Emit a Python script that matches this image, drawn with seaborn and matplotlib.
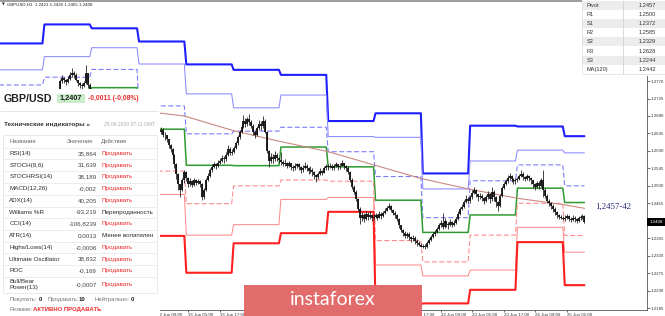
import numpy as np
import matplotlib
matplotlib.use("Agg")
import matplotlib.pyplot as plt
import seaborn as sns
from matplotlib.patches import Rectangle

sns.set_style("white")
plt.rcParams['font.family'] = ['Liberation Sans', 'DejaVu Sans']

# ---------------- data ----------------
# hourly bar index of each trading day's first hour (9,10,11,12,15,...,25 June 2020)
day_start_bar = [0, 24, 48, 72, 96, 120, 144, 168, 192, 216, 240, 264, 288]
last_bar = 298

# daily pivot levels
R3 = [1.2867, 1.2916, 1.2906, 1.2872, 1.2813, 1.2799, 1.2786, 1.2667, 1.2687, 1.2532, 1.2655, 1.2653, 1.2628]
R2 = [1.2799, 1.2833, 1.2856, 1.2814, 1.2737, 1.2701, 1.2734, 1.2627, 1.2625, 1.2492, 1.2564, 1.2592, 1.2585]
R1 = [1.2760, 1.2780, 1.2800, 1.2706, 1.2634, 1.2641, 1.2651, 1.2588, 1.2524, 1.2418, 1.2513, 1.2554, 1.2500]
PP = [1.2691, 1.2696, 1.2753, 1.2646, 1.2553, 1.2552, 1.2600, 1.2549, 1.2463, 1.2380, 1.2425, 1.2494, 1.2457]
S1 = [1.2652, 1.2643, 1.2695, 1.2538, 1.2454, 1.2500, 1.2515, 1.2512, 1.2359, 1.2304, 1.2373, 1.2455, 1.2372]
S2 = [1.2584, 1.2560, 1.2647, 1.2478, 1.2373, 1.2400, 1.2465, 1.2470, 1.2296, 1.2268, 1.2283, 1.2393, 1.2329]
S3 = [1.2545, 1.2507, 1.2589, 1.2371, 1.2276, 1.2352, 1.2378, 1.2433, 1.2194, 1.2197, 1.2232, 1.2355, 1.2244]

# MA(120)
ma_bars = [80, 95, 120, 144, 168, 187, 215, 240, 264, 288, 298]
ma_vals = [1.2689, 1.2680, 1.2642, 1.2614, 1.2588, 1.2560, 1.2519, 1.2491, 1.2468, 1.2451, 1.2442]

# H1 candles, prices in points above 1.2000 (1 point = 0.0001)
candle_first_bar = 24
first_open_pts = 728
close_pts = [
    733, 740, 738, 745, 742, 740, 744, 745, 770, 778, 772, 768, 775, 785, 792, 786, 772, 765, 760, 758, 765, 790, 760, 741,
    745, 738, 730, 722, 715, 708, 700, 692, 685, 690, 678, 668, 655, 648, 640, 630, 622, 610, 598, 592, 600, 605, 598, 600,
    605, 612, 618, 615, 622, 628, 625, 632, 636, 640, 638, 645, 632, 630, 620, 605, 595, 580, 555, 530, 505, 490, 515, 535,
    520, 505, 512, 503, 515, 508, 512, 505, 470, 490, 515, 525, 540, 548, 555, 550, 560, 565, 572, 568, 580, 595, 585, 588,
    598, 610, 625, 640, 652, 668, 660, 672, 665, 655, 640, 632, 650, 660, 655, 668, 640, 590, 565, 575, 570, 580, 572, 566,
    562, 555, 560, 552, 558, 548, 545, 550, 556, 548, 540, 545, 552, 546, 538, 542, 535, 528, 522, 530, 538, 534, 545, 550,
    548, 552, 545, 550, 555, 548, 552, 558, 550, 545, 535, 515, 498, 485, 465, 440, 418, 425, 415, 428, 420, 425, 418, 420,
    425, 418, 428, 422, 430, 435, 442, 448, 438, 430, 425, 415, 398, 385, 378, 372, 375, 368, 362, 366, 358, 352, 348, 343,
    345, 342, 352, 360, 368, 375, 380, 388, 398, 405, 395, 410, 402, 398, 408, 400, 405, 415, 428, 440, 445, 458, 465, 461,
    470, 482, 490, 478, 470, 475, 468, 462, 470, 478, 465, 485, 470, 458, 448, 475, 495, 505, 512, 520, 525, 518, 512, 515,
    518, 525, 530, 522, 518, 525, 520, 515, 505, 498, 508, 500, 515, 490, 475, 462, 455, 448, 440, 432, 425, 420, 418, 415,
    418, 422, 415, 412, 418, 414, 410, 416, 420, 421, 408]
high_pts = [
    738, 744, 744, 749, 748, 746, 747, 750, 776, 786, 780, 776, 782, 793, 804, 796, 790, 774, 768, 765, 770, 812, 792, 765,
    746, 745, 740, 733, 725, 718, 710, 702, 694, 695, 692, 680, 670, 658, 650, 642, 632, 624, 612, 602, 604, 610, 607, 604,
    610, 616, 622, 621, 627, 632, 631, 636, 641, 645, 646, 652, 648, 638, 632, 622, 608, 598, 582, 558, 532, 505, 520, 541,
    538, 522, 520, 514, 520, 518, 518, 515, 508, 495, 520, 532, 545, 555, 562, 560, 566, 572, 580, 578, 586, 605, 600, 595,
    602, 615, 630, 645, 658, 682, 675, 678, 685, 670, 660, 645, 655, 670, 668, 680, 672, 642, 592, 585, 582, 590, 585, 575,
    587, 566, 568, 562, 565, 560, 553, 558, 560, 560, 550, 554, 562, 556, 548, 550, 545, 538, 530, 536, 545, 541, 551, 556,
    556, 560, 555, 557, 562, 556, 560, 567, 560, 553, 550, 538, 520, 502, 488, 468, 445, 432, 430, 436, 432, 434, 428, 428,
    430, 428, 434, 432, 436, 442, 448, 455, 450, 440, 436, 428, 418, 400, 390, 384, 382, 380, 372, 374, 370, 362, 358, 352,
    350, 350, 358, 366, 374, 380, 386, 394, 404, 412, 430, 416, 410, 406, 414, 410, 412, 420, 434, 446, 452, 464, 477, 470,
    476, 490, 498, 492, 480, 482, 478, 472, 476, 486, 482, 498, 490, 474, 462, 480, 500, 510, 518, 528, 533, 528, 520, 520,
    522, 530, 542, 535, 526, 530, 528, 522, 516, 508, 512, 512, 520, 540, 495, 480, 466, 458, 452, 445, 436, 428, 425, 422,
    424, 428, 424, 420, 424, 422, 418, 422, 426, 428, 426]
low_pts = [
    706, 729, 732, 735, 736, 734, 737, 738, 744, 766, 765, 760, 764, 772, 781, 779, 770, 758, 752, 748, 754, 762, 752, 736,
    738, 735, 726, 718, 710, 703, 695, 687, 680, 682, 675, 664, 651, 644, 636, 626, 618, 606, 594, 586, 589, 596, 594, 595,
    598, 603, 610, 609, 613, 620, 619, 624, 630, 633, 632, 634, 626, 618, 612, 598, 588, 570, 545, 518, 490, 472, 486, 508,
    512, 498, 500, 497, 500, 503, 504, 498, 463, 466, 486, 512, 522, 536, 545, 543, 548, 556, 562, 560, 565, 578, 580, 580,
    585, 596, 606, 622, 636, 650, 652, 655, 658, 648, 632, 623, 628, 645, 645, 650, 635, 585, 549, 560, 560, 565, 565, 558,
    554, 550, 552, 545, 549, 540, 538, 541, 545, 540, 532, 536, 543, 538, 530, 533, 526, 518, 510, 518, 528, 527, 532, 542,
    542, 545, 540, 542, 548, 542, 544, 550, 544, 538, 530, 510, 492, 478, 460, 435, 402, 410, 406, 412, 412, 414, 410, 412,
    416, 412, 416, 415, 420, 428, 434, 440, 432, 424, 418, 410, 392, 380, 372, 365, 366, 360, 355, 358, 350, 346, 344, 342,
    339, 337, 340, 350, 358, 366, 372, 378, 385, 395, 388, 392, 395, 390, 396, 394, 396, 402, 412, 425, 438, 442, 455, 455,
    455, 466, 478, 470, 462, 466, 460, 452, 458, 465, 456, 462, 460, 445, 434, 445, 470, 492, 502, 508, 515, 510, 505, 506,
    510, 515, 522, 515, 512, 515, 512, 505, 495, 490, 494, 492, 496, 472, 468, 455, 448, 440, 432, 425, 418, 414, 414, 412,
    410, 414, 410, 406, 410, 408, 404, 408, 412, 415, 405]

xtick_bars = [81, 97, 113, 129, 145, 161, 177, 193, 209, 225, 241, 257, 273, 289]
xtick_labels = ['12 Jun 09:00', '15 Jun 01:00', '15 Jun 17:00', '16 Jun 09:00', '17 Jun 01:00',
                '17 Jun 17:00', '18 Jun 09:00', '19 Jun 01:00', '19 Jun 17:00', '22 Jun 09:00',
                '23 Jun 01:00', '23 Jun 17:00', '24 Jun 09:00', '25 Jun 01:00']
ytick_vals = [1.2185, 1.2230, 1.2275, 1.2320, 1.2365, 1.2410, 1.2455, 1.2500, 1.2545, 1.2590,
              1.2635, 1.2680, 1.2725, 1.2770]

ind_names = ['RSI(14)', 'STOCH(9,6)', 'STOCHRSI(14)', 'MACD(12,26)', 'ADX(14)', 'Williams %R',
             'CCI(14)', 'ATR(14)', 'Highs/Lows(14)', 'Ultimate Oscillator', 'ROC', 'Bull/Bear\nPower(13)']
ind_values = ['35,864', '31,639', '38,189', '-0,002', '40,205', '-93,219',
              '-106,8239', '0,0013', '-0,0006', '38,832', '-0,169', '-0,0007']
ind_actions = ['Продавать', 'Продавать', 'Продавать', 'Продавать', 'Продавать', 'Перепроданность',
               'Продавать', 'Менее волатилен', 'Продавать', 'Продавать', 'Продавать', 'Продавать']
quote_symbol = 'GBP/USD'
quote_price = '1,2407'
quote_change = '-0,0011 (-0,08%)'
panel_title = 'Технические индикаторы »'
panel_time = '25.06.2020 07:11 GMT'
col_headers = ['Название', 'Значение', 'Действие']
summary_counts = [('Покупать:', '0'), ('Продавать:', '10'), ('Нейтрально:', '0')]
summary_label = 'Резюме:'
summary_value = 'АКТИВНО ПРОДАВАТЬ'
piv_names = ['Pivot', 'R1', 'S1', 'R2', 'S2', 'R3', 'S3', 'MA(120)']

# ---------------- figure ----------------
W, H = 665, 316
fig = plt.figure(figsize=(W / 100, H / 100), dpi=100)
fig.patch.set_facecolor('white')
ax_r, ax_b, ax_t = 647, 310.3, 0.5
ax = fig.add_axes([0, (H - ax_b) / H, ax_r / W, (ax_b - ax_t) / H])
ax.set_facecolor('white')

bars = np.arange(0, last_bar + 1)
day_idx = np.searchsorted(day_start_bar, bars, side='right') - 1
dash = (0, (4.5, 2.2))
levels = [(R3, '#1e1eff', 1.5, '-'), (R2, '#8a8aff', 0.75, '-'), (R1, '#7c7cff', 0.8, dash),
          (PP, '#2f9a2f', 1.1, '-'), (S1, '#ff8c8c', 0.8, dash), (S2, '#ff8c8c', 0.75, '-'),
          (S3, '#ff2020', 1.5, '-')]
for vals, col, lw, ls in levels:
    sns.lineplot(x=bars, y=np.asarray(vals)[day_idx], ax=ax, color=col, linewidth=lw,
                 linestyle=ls, estimator=None, sort=False, legend=False, zorder=2)

sns.lineplot(x=ma_bars, y=ma_vals, ax=ax, color='#c98a80', linewidth=0.8,
             estimator=None, sort=False, legend=False, zorder=2.5)

c = 1.2 + np.array(close_pts) / 1e4
hi = 1.2 + np.array(high_pts) / 1e4
lo = 1.2 + np.array(low_pts) / 1e4
o = np.r_[1.2 + first_open_pts / 1e4, c[:-1]]
cb = candle_first_bar + np.arange(len(c))
ax.vlines(cb, lo, hi, color='#111111', lw=0.55, zorder=3)
ax.vlines(cb, np.minimum(o, c), np.maximum(o, c), color='#111111', lw=1.3, zorder=3)

ax.set_xlim(1.465, 329.74)
ax.set_ylim(1.217871 + 0.2 / 3880, 1.297768)
ax.set_xlabel('')
ax.set_ylabel('')
ax.yaxis.tick_right()
ax.set_yticks(ytick_vals)
# the 1.2410 label sits under the current-price tag
ax.set_yticklabels(['' if abs(v - 1.2410) < 1e-6 else f'{v:.4f}' for v in ytick_vals])
ax.tick_params(axis='y', right=True, left=False, length=1.8, width=0.5, labelsize=3.2,
               pad=0.6, colors='#333333')
ax.set_xticks(xtick_bars)
ax.set_xticklabels(xtick_labels, ha='left')
ax.tick_params(axis='x', bottom=True, length=1.6, width=0.5, labelsize=3.2, pad=0.1,
               colors='#333333')
ax.spines['left'].set_visible(False)
ax.spines['top'].set_color('#8c8c8c')
ax.spines['top'].set_linewidth(1.2)
for s in ('right', 'bottom'):
    ax.spines[s].set_color('#555555')
    ax.spines[s].set_linewidth(0.6)

# ---------------- overlay (pixel coordinates) ----------------
ov = fig.add_axes([0, 0, 1, 1], zorder=10)
ov.set_xlim(0, W)
ov.set_ylim(H, 0)
ov.axis('off')

# chart header
ov.text(1.5, 4.3, '▼', fontsize=2.6, va='center', ha='left', color='#333', family='DejaVu Sans')
ov.text(7, 4.3, f'GBPUSD,H1  {o[-1]:.4f} {hi[-1]:.4f} {lo[-1]:.4f} {c[-1]:.4f}',
        fontsize=3.2, va='center', ha='left', color='#222')

# pivot table
tx0, tx1, rh = 582, 665, 9.1
ov.add_patch(Rectangle((tx0, 0), tx1 - tx0, 76, fc='white', ec='none'))
piv_vals = [PP[-1], R1[-1], S1[-1], R2[-1], S2[-1], R3[-1], S3[-1], ma_vals[-1]]
for i, (nm, v) in enumerate(zip(piv_names, piv_vals)):
    yt = 1.0 + i * rh
    ov.add_patch(Rectangle((tx0, yt), tx1 - tx0, rh, fc='#ececec' if i % 2 == 0 else 'white',
                           ec='none'))
    ov.text(586.5, yt + rh / 2, nm, fontsize=4.1, va='center', ha='left', color='#333')
    ov.text(656, yt + rh / 2, f'{v:.4f}', fontsize=4.1, va='center', ha='right', color='#333')
ov.plot([623, 623], [1, 1 + 8 * rh], color='#cccccc', lw=0.5)
ov.plot([tx0, tx0, tx1], [1, 1 + 8 * rh, 1 + 8 * rh], color='#dddddd', lw=0.5)

# key zone label
ov.text(595.5, 206.5, f'{PP[-1]:.4f}-{round(ma_vals[-1] * 1e4) % 100:02d}'.replace('.', ','),
        fontsize=6.3, va='center', ha='left', color='#23237a', family='Liberation Serif')

# current price tag
ov.add_patch(Rectangle((647, 217.6), 18, 8.3, fc='black', ec='none'))
ov.text(649.5, 221.8, f'{c[-1]:.4f}', fontsize=3.2, va='center', ha='left', color='white')

# technical indicators panel
ov.add_patch(Rectangle((0, 89), 160, H - 89, fc='white', ec='none'))
ov.text(4, 98.5, quote_symbol, fontsize=7.7, fontweight='bold', va='center', ha='left', color='#222')
ov.add_patch(Rectangle((56.7, 94), 28.5, 8.8, fc='#c9ecc9', ec='none'))
ov.text(70.9, 98.6, quote_price, fontsize=5.3, fontweight='bold', va='center', ha='center', color='#222')
ov.text(87.5, 98.6, quote_change, fontsize=4.9, fontweight='bold', va='center', ha='left', color='#e8302e')
ov.plot([0, 158], [111, 111], color='#e2e2e2', lw=0.6)
ov.text(4, 124.3, panel_title, fontsize=4.6, fontweight='bold', va='center', ha='left', color='#333')
ov.text(104, 124.3, panel_time, fontsize=3.6, va='center', ha='left', color='#aaaaaa')

ov.add_patch(Rectangle((3.3, 135), 153.5, 157.5, fc='none', ec='#e0e0e0', lw=0.5))
row_lines = [148, 159, 171, 183, 194.5, 206.5, 218.3, 230, 241.7, 253.3, 265, 276.7]
for yl in row_lines:
    ov.plot([3.3, 156.8], [yl, yl], color='#e6e6e6', lw=0.5)
hdr_x = [9.3, 66.7, 101.3]
for hx, ht in zip(hdr_x, col_headers):
    ov.text(hx, 141.7, ht, fontsize=4.3, va='center', ha='left', color='#666')
for i, (nm, v, a) in enumerate(zip(ind_names, ind_values, ind_actions)):
    yc = 153.3 + 11.75 * i if i < 11 else 284.6
    if '\n' in nm:
        l1, l2 = nm.split('\n')
        ov.text(9.3, 281.3, l1, fontsize=4.5, va='center', ha='left', color='#2a2a2a')
        ov.text(9.3, 287.2, l2, fontsize=4.5, va='center', ha='left', color='#2a2a2a')
    else:
        ov.text(9.3, yc, nm, fontsize=4.5, va='center', ha='left', color='#2a2a2a')
    ov.text(96.7, yc, v, fontsize=4.5, va='center', ha='right', color='#444')
    col = '#ee2a2a' if a == 'Продавать' else '#2a2a2a'
    ov.text(101.7, yc, a, fontsize=4.5, va='center', ha='left', color=col)

sx = [(9.3, 38.3), (47.7, 78.3), (94.3, 130.7)]
for (lx, nx), (lab, num) in zip(sx, summary_counts):
    ov.text(lx, 299.8, lab, fontsize=4.3, va='center', ha='left', color='#777')
    ov.text(nx, 299.8, num, fontsize=4.3, fontweight='bold', va='center', ha='left', color='#222')
ov.text(9.3, 309.3, summary_label, fontsize=4.3, va='center', ha='left', color='#777')
ov.text(33.3, 309.3, summary_value, fontsize=4.3, fontweight='bold', va='center', ha='left',
        color='#ee2a2a')

# watermark logo
ov.add_patch(Rectangle((244.3, 285), 177.4, 32, fc='#e26b6b', ec='none'))
ov.text(333, 299.5, 'instaforex', fontsize=14, va='center', ha='center', color='white',
        family='Lato')

fig.savefig('out.png', dpi=100)
